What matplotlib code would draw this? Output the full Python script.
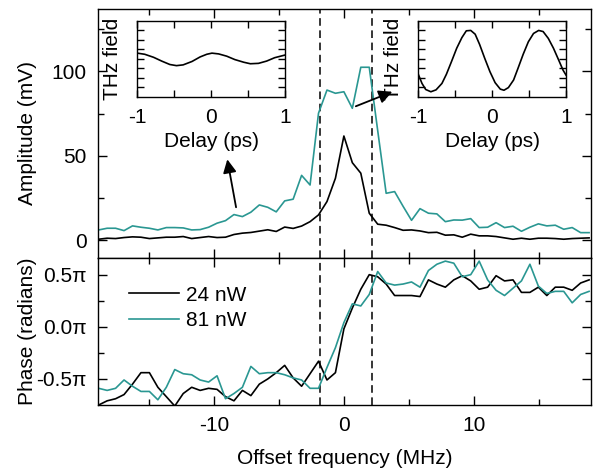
import numpy as np
import matplotlib
matplotlib.use('Agg')
import matplotlib.pyplot as plt

plt.rcParams['font.family'] = ['Liberation Sans', 'DejaVu Sans']
plt.rcParams['font.size'] = 15
plt.rcParams['axes.unicode_minus'] = False
plt.rcParams['axes.linewidth'] = 1.0

# offset frequency grid (MHz), 0.65 MHz step
freq = np.round(np.arange(-29, 30) * 0.65, 2)

# amplitude (mV)
amp_24 = [0.7, 1.3, 1.1, 1.7, 2.1, 1.9, 1.1, 1.5, 1.9, 1.9, 2.3, 1.1, 1.7, 2.3, 1.7,
          1.9, 3.5, 4.3, 4.7, 5.5, 6.3, 5.3, 7.9, 7.1, 8.5,
          11.1, 15.1, 23.0, 36.8, 61.8, 46.0, 39.8, 16.1, 9.6, 9.0,
          7.6, 6.0, 6.2, 5.6, 4.6, 4.8, 3.1, 3.3, 1.9, 3.7, 2.7, 2.7, 2.3, 1.5,
          0.7, 1.3, 0.7, 1.3, 1.3, 1.1, 0.7, 1.1, 1.3, 1.5]
amp_81 = [6.2, 7.2, 7.2, 5.8, 8.6, 7.8, 7.2, 6.2, 7.6, 7.6, 7.4, 6.2, 6.4, 7.8, 10.2,
          11.7, 15.3, 14.1, 16.7, 21.0, 19.6, 16.9, 23.4, 24.4, 38.5,
          32.8, 75.3, 89.0, 87.1, 88.0, 78.2, 102.5, 102.5, 65.0,
          27.9, 28.9, 20.2, 11.9, 18.8, 16.1, 15.7, 11.1, 12.1, 12.0, 12.9, 7.6, 7.8,
          10.5, 7.6, 8.4, 5.4, 7.8, 9.8, 8.6, 9.0, 6.6, 7.6, 4.6, 4.6]

# phase (units of pi)
phase_24 = [-0.75, -0.71, -0.69, -0.65, -0.55, -0.44, -0.44, -0.58, -0.67, -0.76,
            -0.64, -0.58, -0.61, -0.59, -0.60, -0.67, -0.71, -0.61, -0.66, -0.55,
            -0.50, -0.44, -0.37, -0.49, -0.57, -0.45, -0.33, -0.51, -0.44, -0.02,
            0.18, 0.36, 0.50, 0.48, 0.41, 0.30, 0.30, 0.30, 0.29, 0.45, 0.41, 0.38,
            0.45, 0.49, 0.44, 0.36, 0.38, 0.49, 0.44, 0.45, 0.33, 0.33, 0.38, 0.30,
            0.38, 0.38, 0.35, 0.42, 0.45]
phase_81 = [-0.59, -0.61, -0.59, -0.51, -0.57, -0.62, -0.62, -0.70, -0.58, -0.41,
            -0.45, -0.46, -0.51, -0.53, -0.47, -0.69, -0.64, -0.58, -0.38, -0.45,
            -0.44, -0.44, -0.46, -0.49, -0.51, -0.59, -0.59, -0.39, -0.20, 0.04,
            0.22, 0.20, 0.31, 0.53, 0.42, 0.40, 0.41, 0.43, 0.38, 0.54, 0.60, 0.63,
            0.61, 0.48, 0.50, 0.63, 0.45, 0.35, 0.30, 0.37, 0.44, 0.60, 0.39, 0.32,
            0.34, 0.34, 0.23, 0.31, 0.34]

dash_pos = [-1.85, 2.15]

# insets: THz field vs delay
delay_a = [-1.0, -0.9, -0.78, -0.67, -0.56, -0.47, -0.38, -0.26, -0.15, -0.06, 0.01,
           0.1, 0.21, 0.32, 0.44, 0.53, 0.64, 0.75, 0.86, 1.0]
field_a = [0.15, 0.12, 0.04, -0.06, -0.15, -0.18, -0.16, -0.07, 0.05, 0.12, 0.15,
           0.13, 0.07, -0.02, -0.09, -0.13, -0.12, -0.06, 0.03, 0.1]
delay_b = [-1.0, -0.95, -0.9, -0.83, -0.76, -0.68, -0.62, -0.55, -0.48, -0.41, -0.35,
           -0.29, -0.23, -0.17, -0.1, -0.03, 0.04, 0.11, 0.16, 0.22, 0.29, 0.35, 0.42,
           0.49, 0.56, 0.63, 0.69, 0.76, 0.83, 0.9, 0.96, 1.0]
field_b = [-0.41, -0.65, -0.81, -0.87, -0.82, -0.65, -0.41, -0.07, 0.28, 0.56, 0.74,
           0.75, 0.65, 0.38, 0.01, -0.34, -0.63, -0.80, -0.83, -0.76, -0.56, -0.25,
           0.12, 0.45, 0.67, 0.75, 0.72, 0.54, 0.28, -0.03, -0.30, -0.43]

teal = '#2a9792'

fig = plt.figure(figsize=(5.93, 4.70), dpi=100)
ax1 = fig.add_axes([0.1653, 0.4511, 0.8314, 0.5298])
ax2 = fig.add_axes([0.1653, 0.1383, 0.8314, 0.3128], sharex=ax1)

for ax in (ax1, ax2):
    ax.tick_params(which='both', direction='in', top=True, right=True, width=1.0)
    ax.tick_params(which='major', length=6.5, pad=8)
    ax.tick_params(which='minor', length=4.3)
    for x in dash_pos:
        ax.axvline(x, color='k', ls=(0, (5, 3)), lw=1.1)

ax1.plot(freq, amp_24, color='k', lw=1.2)
ax1.plot(freq, amp_81, color=teal, lw=1.2)
ax1.set_xlim(-18.9, 19.0)
ax1.set_ylim(-10.4, 137)
ax1.set_yticks([0, 50, 100])
ax1.set_yticks([25, 75, 125], minor=True)
ax1.tick_params(labelbottom=False)
ax1.set_ylabel('Amplitude (mV)')
ax1.yaxis.set_label_coords(-0.124, 0.5)

ax2.plot(freq, phase_24, color='k', lw=1.2, label='24 nW')
ax2.plot(freq, phase_81, color=teal, lw=1.2, label='81 nW')
ax2.set_ylim(-0.75, 0.66)
ax2.set_yticks([-0.5, 0, 0.5])
ax2.set_yticklabels(['-0.5π', '0.0π', '0.5π'])
ax2.set_yticks([-0.25, 0.25], minor=True)
ax2.set_xticks([-10, 0, 10])
ax2.set_xticks([-15, -5, 5, 15], minor=True)
ax2.set_xlabel('Offset frequency (MHz)', labelpad=10)
ax2.set_ylabel('Phase (radians)')
ax2.yaxis.set_label_coords(-0.124, 0.5)
ax2.legend(frameon=False, loc='upper left', bbox_to_anchor=(0.055, 0.84),
           handlelength=2.4, handletextpad=0.3, labelspacing=0.3,
           borderaxespad=0, borderpad=0.2)

# arrows from curves to insets
arrow = dict(arrowstyle='-|>', mutation_scale=20, lw=1.3, color='k')
ax1.annotate('', xy=(-9.0, 49.6), xytext=(-8.25, 18), arrowprops=arrow)
ax1.annotate('', xy=(3.92, 88.6), xytext=(0.72, 78.8), arrowprops=arrow)

for pos, d, f in (([0.2316, 0.7943, 0.2491, 0.1611], delay_a, field_a),
                  ([0.7054, 0.7943, 0.2491, 0.1611], delay_b, field_b)):
    ins = fig.add_axes(pos)
    ins.plot(d, f, color='k', lw=1.2)
    ins.set_xlim(-1, 1)
    ins.set_ylim(-1, 1)
    ins.set_xticks([-1, 0, 1])
    ins.set_xticks([-0.5, 0.5], minor=True)
    ins.set_yticks(np.arange(-0.75, 0.76, 0.25))
    ins.set_yticklabels([])
    ins.tick_params(which='both', direction='in', top=True, right=True,
                    length=5, width=1.0, pad=8)
    ins.set_xlabel('Delay (ps)', labelpad=4)
    ins.set_ylabel('THz field', labelpad=3)

fig.savefig('out.png', dpi=100)
